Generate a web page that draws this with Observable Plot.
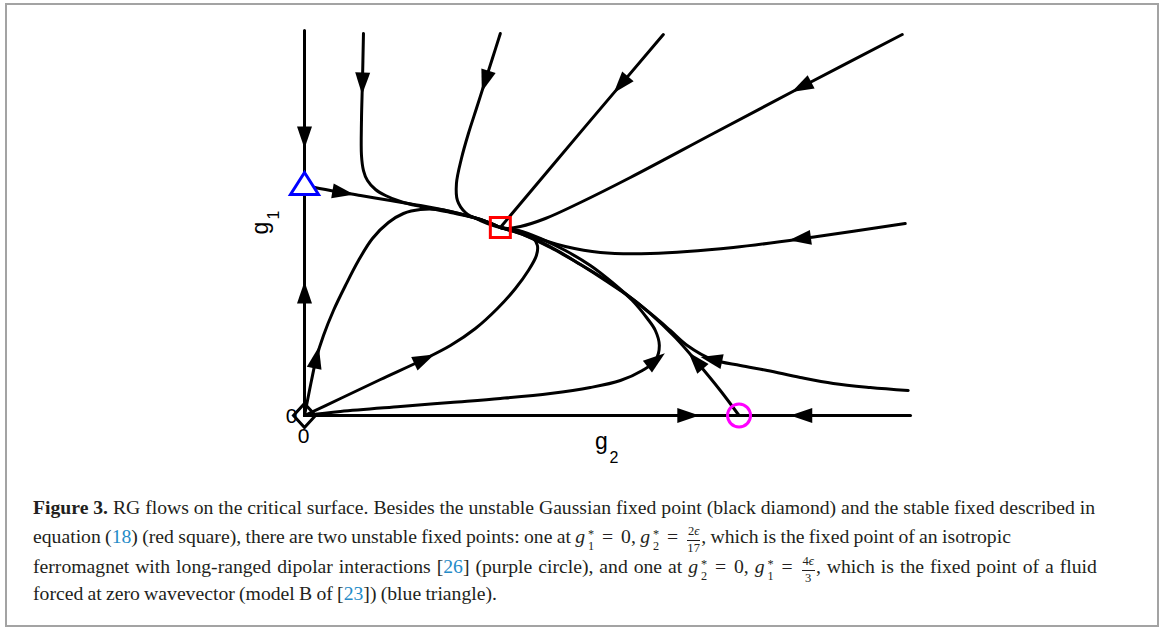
<!DOCTYPE html>
<html>
<head>
<meta charset="utf-8">
<script src="https://cdn.jsdelivr.net/npm/d3@7"></script>
<script src="https://cdn.jsdelivr.net/npm/@observablehq/plot@0.6"></script>
<style>
  html, body { margin: 0; padding: 0; background: #fff; }
  #page { position: relative; width: 1168px; height: 628px; overflow: hidden; background: #fff; }
  #frame { position: absolute; left: 5px; top: 3px; width: 1154px; height: 624px; border: 2px solid #a3a3a3; box-sizing: border-box; }
  #chart { position: absolute; left: 0; top: 0; }
  #caption { position: absolute; left: 33px; top: 0; font-family: "Liberation Serif", "Times New Roman", serif; font-size: 19.7px; color: #231f20; }
  .ln { position: absolute; left: 0; height: 29px; line-height: 29px; white-space: nowrap; }
  .ref { color: #258bc8; }
  .m i { font-style: italic; padding-right: 1px; }
  .ss { display: inline-block; font-size: 0.62em; line-height: 1.15; vertical-align: -0.55em; margin-left: 2px; text-align: left; }
  .ss span { display: block; height: 1.0em; line-height: 1.0em; overflow: visible; }
  .frac { display: inline-block; font-size: 0.64em; line-height: 1.1; vertical-align: -0.7em; text-align: center; margin: 0 1px; }
  .frac .n { display: block; border-bottom: 1px solid #231f20; padding: 0 1px 1px 1px; }
  .frac .d { display: block; padding-top: 1px; }
  .eq { padding: 0 0.4em; }
</style>
</head>
<body>
<div id="page">
  <div id="frame"></div>
  <div id="chart"></div>
  <div id="caption">
    <div class="ln" style="top:493px" data-end="1095"><b>Figure 3.</b> RG flows on the critical surface. Besides the unstable Gaussian fixed point (black diamond) and the stable fixed described in</div>
    <div class="ln" style="top:522px" data-end="1011">equation (<span class="ref">18</span>) (red square), there are two unstable fixed points: one at <span class="m"><i>g</i><span class="ss"><span>*</span><span>1</span></span></span><span class="eq">=</span>0, <span class="m"><i>g</i><span class="ss"><span>*</span><span>2</span></span></span><span class="eq">=</span><span class="frac"><span class="n">2<i>ϵ</i></span><span class="d">17</span></span>, which is the fixed point of an isotropic</div>
    <div class="ln" style="top:552px" data-end="1097">ferromagnet with long-ranged dipolar interactions [<span class="ref">26</span>] (purple circle), and one at <span class="m"><i>g</i><span class="ss"><span>*</span><span>2</span></span></span><span class="eq">=</span>0, <span class="m"><i>g</i><span class="ss"><span>*</span><span>1</span></span></span><span class="eq">=</span><span class="frac"><span class="n">4<i>ϵ</i></span><span class="d">3</span></span>, which is the fixed point of a fluid</div>
    <div class="ln" style="top:579px" data-end="497">forced at zero wavevector (model B of [<span class="ref">23</span>]) (blue triangle).</div>
  </div>
</div>
<script>
// ---- Axis extents (in units of ε) ----
const g2Domain = [0, 0.164];
const g1Domain = [0, 2.232];

// ---- Fixed points [g2, g1] ----
const gaussianFP = [0, 0];          // black diamond
const stableFP = [0.0530, 1.0899];  // red square
const dipolarFP = [0.1176, 0];      // purple circle (g2* = 2ε/17)
const modelBFP = [0, 1.3333];       // blue triangle (g1* = 4ε/3)

// ---- RG trajectories, each ordered along the flow, points [g2, g1] ----
const axisG1Upper = [[0, 2.232], [0, 1.3333]];
const axisG1Lower = [[0, 0], [0, 1.3333]];
const axisG2Left = [[0, 0], [0.1176, 0]];
const axisG2Right = [[0.164, 0], [0.1176, 0]];
const flowFromTriangle = [[0, 1.3333], [0.00703, 1.3043], [0.01515, 1.2754], [0.02326, 1.2464], [0.03138, 1.2174], [0.03949, 1.1826], [0.04761, 1.1362], [0.0530, 1.0899]];
const flowTopA = [[0.01596, 2.2145], [0.01569, 1.9420], [0.01542, 1.7101], [0.01542, 1.5072], [0.01596, 1.4203], [0.01704, 1.3623], [0.01921, 1.3101], [0.02191, 1.2753], [0.02597, 1.2406], [0.03138, 1.2116], [0.03949, 1.1768], [0.04761, 1.1362], [0.0530, 1.0899]];
const flowTopB = [[0.0530, 2.2145], [0.05085, 2.0696], [0.04869, 1.9246], [0.04653, 1.7797], [0.04436, 1.6348], [0.04247, 1.4898], [0.04112, 1.3449], [0.04139, 1.2464], [0.04355, 1.1768], [0.04761, 1.1304], [0.05112, 1.1014], [0.0530, 1.0899]];
const flowTopC = [[0.09711, 2.2087], [0.07500, 1.6500], [0.0530, 1.0899]];
const flowTopD = [[0.16176, 2.2087], [0.13471, 1.9072], [0.11063, 1.6348], [0.08818, 1.3797], [0.07466, 1.2348], [0.06519, 1.1420], [0.05843, 1.0956], [0.05437, 1.0840], [0.0530, 1.0899]];
const flowRightUpper = [[0.16257, 1.1130], [0.13877, 1.0377], [0.11604, 0.9739], [0.09359, 0.9391], [0.08007, 0.9449], [0.07060, 0.9797], [0.06249, 1.0319], [0.05626, 1.0724], [0.0530, 1.0899]];
const flowOriginSteep = [[0, 0], [0.00081, 0.0870], [0.00189, 0.2029], [0.00325, 0.3362], [0.00514, 0.4638], [0.00784, 0.6087], [0.01109, 0.7536], [0.01461, 0.8985], [0.01839, 1.0261], [0.02272, 1.1188], [0.02678, 1.1710], [0.03138, 1.1942], [0.03679, 1.1942], [0.03949, 1.1826], [0.04761, 1.1362], [0.0530, 1.0899]];
const flowOriginDiagonal = [[0, 0], [0.00974, 0.0986], [0.02056, 0.2087], [0.03219, 0.3246], [0.03949, 0.4058], [0.04626, 0.5043], [0.05221, 0.6203], [0.05708, 0.7362], [0.06059, 0.8406], [0.06276, 0.9275], [0.06303, 0.9855], [0.06168, 1.0319], [0.05843, 1.0667], [0.05437, 1.0840], [0.0530, 1.0899]];
const flowOriginLow = [[0, 0], [0.00974, 0.0232], [0.02597, 0.0522], [0.03949, 0.0754], [0.05302, 0.0986], [0.06654, 0.1275], [0.07736, 0.1623], [0.08548, 0.2029], [0.09143, 0.2609], [0.09495, 0.3188], [0.09603, 0.4058], [0.09495, 0.4928], [0.09278, 0.5623], [0.08872, 0.6667], [0.08331, 0.7710], [0.07736, 0.8696], [0.07060, 0.9565], [0.06384, 1.0261], [0.05789, 1.0724], [0.0530, 1.0899]];
const flowFromCircle = [[0.1176, 0], [0.11253, 0.1449], [0.10631, 0.3072], [0.10036, 0.4522], [0.09359, 0.5913], [0.08683, 0.7072], [0.08007, 0.8058], [0.07331, 0.8927], [0.06654, 0.9739], [0.05978, 1.0435], [0.0530, 1.0899]];
const flowRightLower = [[0.16338, 0.1449], [0.15310, 0.1623], [0.14310, 0.1855], [0.13417, 0.2203], [0.12524, 0.2609], [0.11794, 0.2899], [0.11036, 0.3246], [0.10360, 0.4058], [0.09900, 0.4928], [0.09495, 0.5681], [0.08818, 0.6841], [0.08142, 0.7826], [0.07466, 0.8753], [0.06790, 0.9623], [0.06059, 1.0377], [0.0530, 1.0899]];

// ---- Arrowhead positions (curve name, g2, g1) ----
const arrowCurves = ["axisG1Upper", "axisG1Lower", "axisG2Left", "axisG2Right", "flowFromTriangle", "flowTopA", "flowTopB", "flowTopC", "flowTopD", "flowRightUpper", "flowOriginSteep", "flowOriginDiagonal", "flowOriginLow", "flowFromCircle", "flowRightLower"];
const arrowG2 = [0, 0, 0.1036, 0.1347, 0.01028, 0.01569, 0.04923, 0.08629, 0.13471, 0.13417, 0.00325, 0.03219, 0.09630, 0.10631, 0.11036];
const arrowG1 = [1.6174, 0.7072, 0, 0, 1.2986, 1.9304, 1.9420, 1.9130, 1.9072, 1.0551, 0.3304, 0.3246, 0.3072, 0.3188, 0.3246];

// ---- Labels ----
const zeroLabel = "0";
const xLabel = ["g", "2"];
const yLabel = ["g", "1"];

const curves = {axisG1Upper, axisG1Lower, axisG2Left, axisG2Right, flowFromTriangle, flowTopA, flowTopB, flowTopC, flowTopD, flowRightUpper, flowOriginSteep, flowOriginDiagonal, flowOriginLow, flowFromCircle, flowRightLower};

const flowRows = Object.entries(curves).flatMap(([id, pts]) => pts.map(([g2, g1]) => ({id, g2, g1})));

// custom symbols
const arrowHead = {draw(ctx) { ctx.moveTo(0, -12); ctx.lineTo(7.5, 10); ctx.lineTo(-7.5, 10); ctx.closePath(); }};
const squareSym = {draw(ctx) { ctx.moveTo(-10, -10); ctx.lineTo(10, -10); ctx.lineTo(10, 10); ctx.lineTo(-10, 10); ctx.closePath(); }};
const triangleSym = {draw(ctx) { ctx.moveTo(0, -13); ctx.lineTo(14, 9); ctx.lineTo(-14, 9); ctx.closePath(); }};
const diamondSym = {draw(ctx) { ctx.moveTo(0, -12); ctx.lineTo(11, 0); ctx.lineTo(0, 12); ctx.lineTo(-11, 0); ctx.closePath(); }};

const sans = "Liberation Sans, Arial, Helvetica, sans-serif";

function options(marks) {
  return {
    width: 1168,
    height: 480,
    marginLeft: 304,
    marginRight: 258,
    marginTop: 30,
    marginBottom: 65,
    x: {domain: g2Domain, axis: null},
    y: {domain: g1Domain, axis: null},
    style: {background: "transparent", overflow: "visible"},
    marks
  };
}

const baseMarks = [
  Plot.ruleX([0], {y1: g1Domain[0], y2: g1Domain[1], stroke: "black", strokeWidth: 2.5}),
  Plot.ruleY([0], {x1: g2Domain[0], x2: g2Domain[1], stroke: "black", strokeWidth: 2.5}),
  Plot.line(flowRows, {x: "g2", y: "g1", z: "id", curve: "catmull-rom", stroke: "black", strokeWidth: 3, strokeLinejoin: "round"})
];

// first pass to obtain the plot's own scales
const probe = Plot.plot(options(baseMarks));
const sx = probe.scale("x"), sy = probe.scale("y");
const toPx = ([a, b]) => [sx.apply(a), sy.apply(b)];

const arrowRows = arrowCurves.map((name, i) => {
  const pts = curves[name].map(toPx);
  const q = toPx([arrowG2[i], arrowG1[i]]);
  let best = {d: Infinity};
  for (let k = 0; k < pts.length - 1; k++) {
    const [x0, y0] = pts[k], [x1, y1] = pts[k + 1];
    const vx = x1 - x0, vy = y1 - y0;
    const L2 = vx * vx + vy * vy || 1;
    let t = ((q[0] - x0) * vx + (q[1] - y0) * vy) / L2;
    t = Math.max(0, Math.min(1, t));
    const px = x0 + t * vx, py = y0 + t * vy;
    const d = Math.hypot(q[0] - px, q[1] - py);
    if (d < best.d) best = {d, px, py, vx, vy};
  }
  const angle = Math.atan2(best.vx, -best.vy) * 180 / Math.PI;
  const g2 = sx.invert ? sx.invert(best.px) : arrowG2[i];
  const g1 = sy.invert ? sy.invert(best.py) : arrowG1[i];
  return {g2, g1, angle};
});

const fixedRows = [
  {g2: gaussianFP[0], g1: gaussianFP[1], sym: diamondSym, color: "black", fill: "none"},
  {g2: stableFP[0], g1: stableFP[1], sym: squareSym, color: "#ff0000", fill: "none"},
  {g2: modelBFP[0], g1: modelBFP[1], sym: triangleSym, color: "#0000ff", fill: "white"}
];

const marks = [
  ...baseMarks,
  Plot.dot(arrowRows, {x: "g2", y: "g1", rotate: "angle", symbol: arrowHead, fill: "black", stroke: "none"}),
  ...fixedRows.map(f => Plot.dot([f], {x: "g2", y: "g1", symbol: f.sym, stroke: f.color, fill: f.fill, strokeWidth: 3})),
  Plot.dot([{g2: dipolarFP[0], g1: dipolarFP[1]}], {x: "g2", y: "g1", r: 11.5, stroke: "#ff00ff", fill: "none", strokeWidth: 3}),
  // zero labels at the origin
  Plot.text([zeroLabel], {x: 0, y: 0, text: d => d, textAnchor: "end", dx: -7, dy: 1, fontSize: 21, fontFamily: sans, fill: "black"}),
  Plot.text([zeroLabel], {x: 0, y: 0, text: d => d, textAnchor: "middle", dx: -1, dy: 21, fontSize: 21, fontFamily: sans, fill: "black"}),
  // axis labels
  Plot.text([xLabel[0]], {frameAnchor: "bottom", text: d => d, textAnchor: "middle", dx: -6, dy: 33, fontSize: 23, fontFamily: sans, fill: "black"}),
  Plot.text([xLabel[1]], {frameAnchor: "bottom", text: d => d, textAnchor: "start", dx: 2, dy: 47, fontSize: 16, fontFamily: sans, fill: "black"}),
  Plot.text([yLabel[0]], {frameAnchor: "left", text: d => d, rotate: -90, textAnchor: "middle", dx: -44, dy: 5, fontSize: 23, fontFamily: sans, fill: "black"}),
  Plot.text([yLabel[1]], {frameAnchor: "left", text: d => d, rotate: -90, textAnchor: "middle", dx: -31, dy: -8, fontSize: 16, fontFamily: sans, fill: "black"})
];

document.getElementById("chart").appendChild(Plot.plot(options(marks)));

// justify each caption line to the reference line ends
const capLeft = document.getElementById("caption").getBoundingClientRect().left;
document.querySelectorAll("#caption .ln").forEach(el => {
  const target = +el.dataset.end - capLeft;
  const w = el.getBoundingClientRect().width;
  const spaces = (el.textContent.match(/ /g) || []).length;
  if (spaces) el.style.wordSpacing = ((target - w) / spaces).toFixed(2) + "px";
});
</script>
</body>
</html>
